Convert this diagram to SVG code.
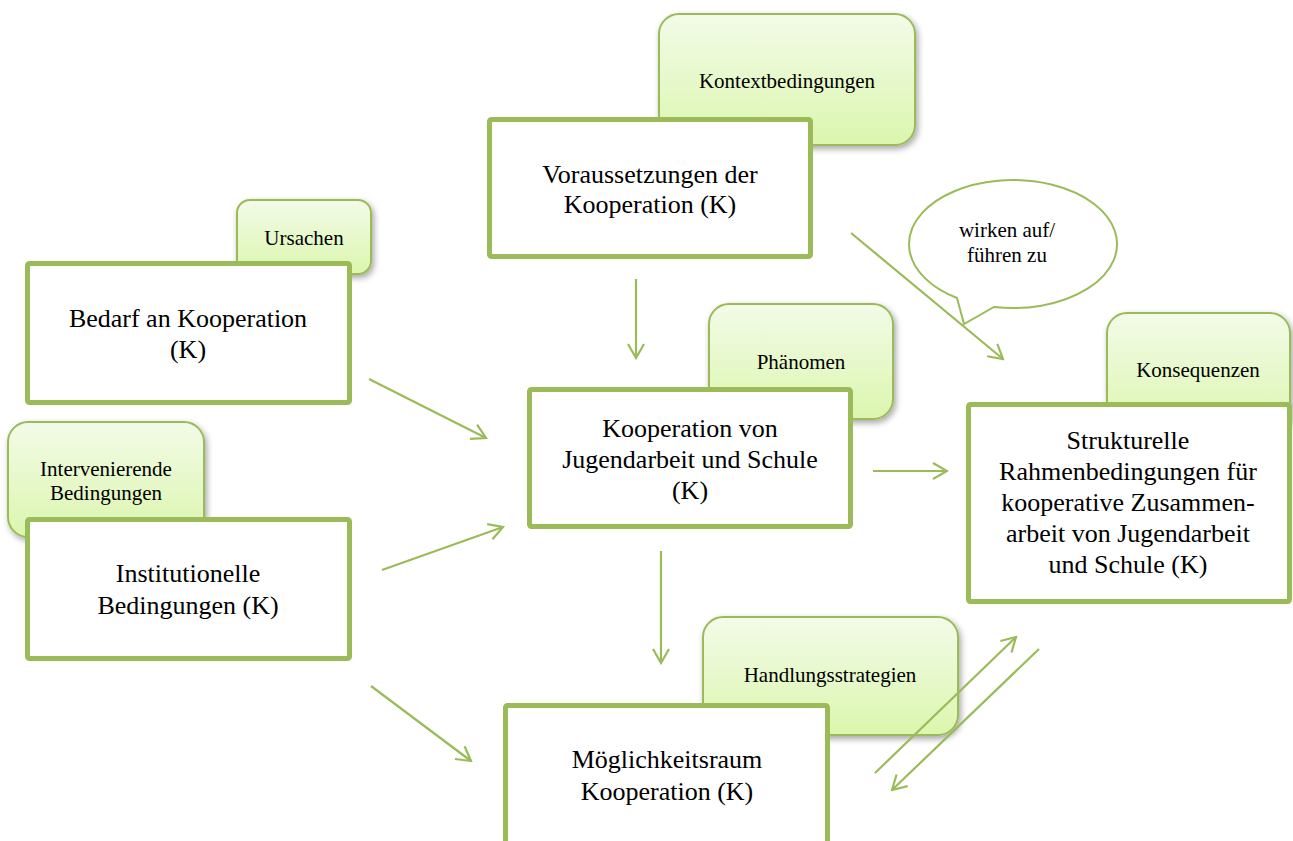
<svg xmlns="http://www.w3.org/2000/svg" width="1293" height="841" viewBox="0 0 1293 841">
<style>
.box{fill:#fff;stroke:#9BBB59;stroke-width:5}
.tab{fill:url(#tg);stroke:#9BBB59;stroke-width:2;filter:url(#sh)}
.big{font-family:"Liberation Serif","Times New Roman",serif;font-size:26px;fill:#000;text-anchor:middle}
.sm{font-family:"Liberation Serif","Times New Roman",serif;font-size:21px;fill:#000;text-anchor:middle}
.con{stroke:#9BBB59;stroke-width:2.2;fill:none;marker-end:url(#ah)}
</style>
<defs>
<linearGradient id="tg" x1="0" y1="0" x2="0" y2="1">
<stop offset="0" stop-color="#F3FBE8"/>
<stop offset="1" stop-color="#DBF6AE"/>
</linearGradient>
<filter id="sh" x="-20%" y="-20%" width="140%" height="150%">
<feDropShadow dx="2" dy="3" stdDeviation="3" flood-color="#000" flood-opacity="0.35"/>
</filter>
<marker id="ah" markerUnits="userSpaceOnUse" markerWidth="20" markerHeight="20" viewBox="0 0 20 20" refX="18" refY="10" orient="auto">
<path d="M4,2 L18,10 L4,18" fill="none" stroke="#9BBB59" stroke-width="2.2"/>
</marker>
</defs>

<g id="node-voraussetzungen">
<rect class="tab" x="659" y="14" width="256" height="131" rx="20"/>
<text class="sm" x="787" y="88">Kontextbedingungen</text>
<rect class="box" x="489.5" y="119.5" width="321" height="137" rx="2"/>
<text class="big" x="650" y="183">Voraussetzungen der</text>
<text class="big" x="650" y="213">Kooperation (K)</text>
</g>

<g id="node-bedarf">
<rect class="tab" x="237" y="200" width="134" height="74" rx="13"/>
<text class="sm" x="304" y="245">Ursachen</text>
<rect class="box" x="27.5" y="263.5" width="322" height="139" rx="2"/>
<text class="big" x="188" y="327">Bedarf an Kooperation</text>
<text class="big" x="188" y="358">(K)</text>
</g>

<g id="node-institutionelle">
<rect class="tab" x="8" y="422" width="196" height="115" rx="20"/>
<text class="sm" x="106" y="476">Intervenierende</text>
<text class="sm" x="106" y="500">Bedingungen</text>
<rect class="box" x="27.5" y="519.5" width="322" height="139" rx="2"/>
<text class="big" x="188" y="582">Institutionelle</text>
<text class="big" x="188" y="614">Bedingungen (K)</text>
</g>

<g id="node-kooperation">
<rect class="tab" x="709" y="304" width="184" height="115" rx="20"/>
<text class="sm" x="801" y="369">Phänomen</text>
<rect class="box" x="529.5" y="389.5" width="321" height="137" rx="2"/>
<text class="big" x="690" y="437">Kooperation von</text>
<text class="big" x="690" y="468">Jugendarbeit und Schule</text>
<text class="big" x="690" y="499">(K)</text>
</g>

<g id="node-strukturelle">
<rect class="tab" x="1107" y="313" width="183" height="120" rx="20"/>
<text class="sm" x="1198" y="377">Konsequenzen</text>
<rect class="box" x="968.5" y="404.5" width="321" height="197" rx="2"/>
<text class="big" x="1128" y="449">Strukturelle</text>
<text class="big" x="1128" y="480">Rahmenbedingungen für</text>
<text class="big" x="1128" y="511">kooperative Zusammen-</text>
<text class="big" x="1128" y="542">arbeit von Jugendarbeit</text>
<text class="big" x="1128" y="573">und Schule (K)</text>
</g>

<g id="node-moeglichkeitsraum">
<rect class="tab" x="703" y="617" width="255" height="118" rx="20"/>
<text class="sm" x="830" y="682">Handlungsstrategien</text>
<rect class="box" x="505.5" y="705.5" width="322" height="150" rx="2"/>
<text class="big" x="667" y="768">Möglichkeitsraum</text>
<text class="big" x="667" y="800">Kooperation (K)</text>
</g>

<g id="callout">
<path d="M994,307 A104,64 0 1 0 957,298 L964,324 Z" fill="#fff" stroke="#9BBB59" stroke-width="2"/>
<text class="sm" x="1007" y="237">wirken auf/</text>
<text class="sm" x="1007" y="262">führen zu</text>
</g>

<g id="connectors">
<line class="con" x1="636" y1="279" x2="636" y2="358"/>
<line class="con" x1="851" y1="233" x2="1003" y2="359"/>
<line class="con" x1="369" y1="379" x2="486" y2="438"/>
<line class="con" x1="382" y1="570" x2="503" y2="527"/>
<line class="con" x1="873" y1="471" x2="947" y2="471"/>
<line class="con" x1="661" y1="551" x2="661" y2="663"/>
<line class="con" x1="371" y1="686" x2="471" y2="761"/>
<line class="con" x1="875" y1="773" x2="1016" y2="637"/>
<line class="con" x1="1039" y1="649" x2="892" y2="790"/>
</g>
</svg>
